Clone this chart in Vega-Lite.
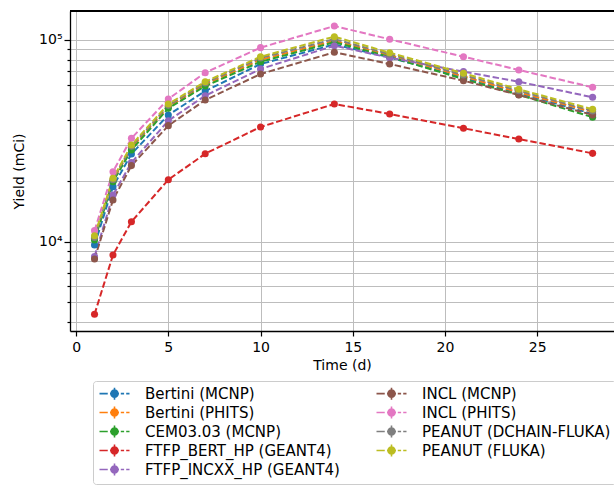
{
  "$schema": "https://vega.github.io/schema/vega-lite/v6.json",
  "autosize": {"type": "none"},
  "padding": {"left": 70, "top": 11, "right": 0, "bottom": 162},
  "width": 544,
  "height": 320,
  "config": {
    "font": "DejaVu Sans",
    "view": {"stroke": null},
    "axis": {
      "gridColor": "#bdbdbd",
      "gridWidth": 1,
      "gridOpacity": 1,
      "domainColor": "black",
      "domainWidth": 1.3,
      "tickColor": "black",
      "tickWidth": 1.2,
      "labelColor": "black",
      "labelFont": "DejaVu Sans",
      "labelFontSize": 14,
      "titleFont": "DejaVu Sans",
      "titleFontSize": 14,
      "titleFontWeight": "normal",
      "titleColor": "black"
    }
  },
  "data": {
    "values": [
      {"model": "Bertini (MCNP)", "t": 1, "y": 9630}, {"model": "Bertini (MCNP)", "t": 2, "y": 18740}, {"model": "Bertini (MCNP)", "t": 3, "y": 27220}, {"model": "Bertini (MCNP)", "t": 5, "y": 42500}, {"model": "Bertini (MCNP)", "t": 7, "y": 55840}, {"model": "Bertini (MCNP)", "t": 10, "y": 76000}, {"model": "Bertini (MCNP)", "t": 14, "y": 95000}, {"model": "Bertini (MCNP)", "t": 17, "y": 82000}, {"model": "Bertini (MCNP)", "t": 21, "y": 65000}, {"model": "Bertini (MCNP)", "t": 24, "y": 54500}, {"model": "Bertini (MCNP)", "t": 28, "y": 43000},
      {"model": "Bertini (PHITS)", "t": 1, "y": 10400}, {"model": "Bertini (PHITS)", "t": 2, "y": 20100}, {"model": "Bertini (PHITS)", "t": 3, "y": 29200}, {"model": "Bertini (PHITS)", "t": 5, "y": 46600}, {"model": "Bertini (PHITS)", "t": 7, "y": 60200}, {"model": "Bertini (PHITS)", "t": 10, "y": 79800}, {"model": "Bertini (PHITS)", "t": 14, "y": 99000}, {"model": "Bertini (PHITS)", "t": 17, "y": 84000}, {"model": "Bertini (PHITS)", "t": 21, "y": 66000}, {"model": "Bertini (PHITS)", "t": 24, "y": 55000}, {"model": "Bertini (PHITS)", "t": 28, "y": 44000},
      {"model": "CEM03.03 (MCNP)", "t": 1, "y": 10190}, {"model": "CEM03.03 (MCNP)", "t": 2, "y": 19840}, {"model": "CEM03.03 (MCNP)", "t": 3, "y": 28480}, {"model": "CEM03.03 (MCNP)", "t": 5, "y": 45850}, {"model": "CEM03.03 (MCNP)", "t": 7, "y": 59100}, {"model": "CEM03.03 (MCNP)", "t": 10, "y": 78000}, {"model": "CEM03.03 (MCNP)", "t": 14, "y": 97500}, {"model": "CEM03.03 (MCNP)", "t": 17, "y": 82500}, {"model": "CEM03.03 (MCNP)", "t": 21, "y": 64000}, {"model": "CEM03.03 (MCNP)", "t": 24, "y": 53500}, {"model": "CEM03.03 (MCNP)", "t": 28, "y": 41400},
      {"model": "FTFP_BERT_HP (GEANT4)", "t": 1, "y": 4365}, {"model": "FTFP_BERT_HP (GEANT4)", "t": 2, "y": 8590}, {"model": "FTFP_BERT_HP (GEANT4)", "t": 3, "y": 12560}, {"model": "FTFP_BERT_HP (GEANT4)", "t": 5, "y": 20280}, {"model": "FTFP_BERT_HP (GEANT4)", "t": 7, "y": 27300}, {"model": "FTFP_BERT_HP (GEANT4)", "t": 10, "y": 37050}, {"model": "FTFP_BERT_HP (GEANT4)", "t": 14, "y": 48150}, {"model": "FTFP_BERT_HP (GEANT4)", "t": 17, "y": 42950}, {"model": "FTFP_BERT_HP (GEANT4)", "t": 21, "y": 36480}, {"model": "FTFP_BERT_HP (GEANT4)", "t": 24, "y": 32280}, {"model": "FTFP_BERT_HP (GEANT4)", "t": 28, "y": 27410},
      {"model": "FTFP_INCXX_HP (GEANT4)", "t": 1, "y": 8430}, {"model": "FTFP_INCXX_HP (GEANT4)", "t": 2, "y": 17040}, {"model": "FTFP_INCXX_HP (GEANT4)", "t": 3, "y": 24650}, {"model": "FTFP_INCXX_HP (GEANT4)", "t": 5, "y": 39800}, {"model": "FTFP_INCXX_HP (GEANT4)", "t": 7, "y": 52950}, {"model": "FTFP_INCXX_HP (GEANT4)", "t": 10, "y": 71800}, {"model": "FTFP_INCXX_HP (GEANT4)", "t": 14, "y": 93700}, {"model": "FTFP_INCXX_HP (GEANT4)", "t": 17, "y": 81700}, {"model": "FTFP_INCXX_HP (GEANT4)", "t": 21, "y": 69650}, {"model": "FTFP_INCXX_HP (GEANT4)", "t": 24, "y": 62100}, {"model": "FTFP_INCXX_HP (GEANT4)", "t": 28, "y": 51980},
      {"model": "INCL (MCNP)", "t": 1, "y": 8210}, {"model": "INCL (MCNP)", "t": 2, "y": 16100}, {"model": "INCL (MCNP)", "t": 3, "y": 23830}, {"model": "INCL (MCNP)", "t": 5, "y": 37600}, {"model": "INCL (MCNP)", "t": 7, "y": 50400}, {"model": "INCL (MCNP)", "t": 10, "y": 67800}, {"model": "INCL (MCNP)", "t": 14, "y": 86900}, {"model": "INCL (MCNP)", "t": 17, "y": 76000}, {"model": "INCL (MCNP)", "t": 21, "y": 62850}, {"model": "INCL (MCNP)", "t": 24, "y": 53350}, {"model": "INCL (MCNP)", "t": 28, "y": 42500},
      {"model": "INCL (PHITS)", "t": 1, "y": 11340}, {"model": "INCL (PHITS)", "t": 2, "y": 22230}, {"model": "INCL (PHITS)", "t": 3, "y": 32550}, {"model": "INCL (PHITS)", "t": 5, "y": 51000}, {"model": "INCL (PHITS)", "t": 7, "y": 68850}, {"model": "INCL (PHITS)", "t": 10, "y": 91600}, {"model": "INCL (PHITS)", "t": 14, "y": 117300}, {"model": "INCL (PHITS)", "t": 17, "y": 100800}, {"model": "INCL (PHITS)", "t": 21, "y": 82600}, {"model": "INCL (PHITS)", "t": 24, "y": 71000}, {"model": "INCL (PHITS)", "t": 28, "y": 58270},
      {"model": "PEANUT (DCHAIN-FLUKA)", "t": 1, "y": 10500}, {"model": "PEANUT (DCHAIN-FLUKA)", "t": 2, "y": 20300}, {"model": "PEANUT (DCHAIN-FLUKA)", "t": 3, "y": 29700}, {"model": "PEANUT (DCHAIN-FLUKA)", "t": 5, "y": 47400}, {"model": "PEANUT (DCHAIN-FLUKA)", "t": 7, "y": 61200}, {"model": "PEANUT (DCHAIN-FLUKA)", "t": 10, "y": 81400}, {"model": "PEANUT (DCHAIN-FLUKA)", "t": 14, "y": 101000}, {"model": "PEANUT (DCHAIN-FLUKA)", "t": 17, "y": 85000}, {"model": "PEANUT (DCHAIN-FLUKA)", "t": 21, "y": 67000}, {"model": "PEANUT (DCHAIN-FLUKA)", "t": 24, "y": 56000}, {"model": "PEANUT (DCHAIN-FLUKA)", "t": 28, "y": 44500},
      {"model": "PEANUT (FLUKA)", "t": 1, "y": 10710}, {"model": "PEANUT (FLUKA)", "t": 2, "y": 20620}, {"model": "PEANUT (FLUKA)", "t": 3, "y": 30130}, {"model": "PEANUT (FLUKA)", "t": 5, "y": 48150}, {"model": "PEANUT (FLUKA)", "t": 7, "y": 62100}, {"model": "PEANUT (FLUKA)", "t": 10, "y": 82600}, {"model": "PEANUT (FLUKA)", "t": 14, "y": 103850}, {"model": "PEANUT (FLUKA)", "t": 17, "y": 86500}, {"model": "PEANUT (FLUKA)", "t": 21, "y": 68400}, {"model": "PEANUT (FLUKA)", "t": 24, "y": 56970}, {"model": "PEANUT (FLUKA)", "t": 28, "y": 45330}
    ]
  },
  "encoding": {
    "x": {
      "field": "t",
      "type": "quantitative",
      "scale": {"domain": [-0.33, 29.16], "nice": false, "zero": false},
      "axis": {"values": [0, 5, 10, 15, 20, 25], "title": "Time (d)", "tickSize": 5, "labelPadding": 4, "titlePadding": 4, "labelFlush": false}
    },
    "y": {
      "field": "y",
      "type": "quantitative",
      "scale": {"type": "log", "domain": [3607, 139200], "nice": false},
      "axis": {
        "title": "Yield (mCi)",
        "values": [4000, 5000, 6000, 7000, 8000, 9000, 10000, 20000, 30000, 40000, 50000, 60000, 70000, 80000, 90000, 100000],
        "labelExpr": "datum.value == 10000 ? '10⁴' : (datum.value == 100000 ? '10⁵' : '')",
        "tickSize": {"condition": {"test": "datum.value == 10000 || datum.value == 100000", "value": 6}, "value": 3},
        "labelPadding": 2,
        "titlePadding": 12,
        "labelFlush": false
      }
    },
    "color": {
      "field": "model",
      "type": "nominal",
      "scale": {
        "domain": ["Bertini (MCNP)", "Bertini (PHITS)", "CEM03.03 (MCNP)", "FTFP_BERT_HP (GEANT4)", "FTFP_INCXX_HP (GEANT4)", "INCL (MCNP)", "INCL (PHITS)", "PEANUT (DCHAIN-FLUKA)", "PEANUT (FLUKA)"],
        "range": ["#1f77b4", "#ff7f0e", "#2ca02c", "#d62728", "#9467bd", "#8c564b", "#e377c2", "#7f7f7f", "#bcbd22"]
      },
      "legend": {
        "orient": "none",
        "legendX": 23,
        "legendY": 370,
        "columns": 2,
        "title": null,
        "symbolType": "M-1,0L0.375,0M0.75,0L2.25,0M2.55,0L3.1,0M3.45,0L4,0M1.5,-1L1.5,1M2.083,0A0.583,0.583,0,1,1,0.917,0A0.583,0.583,0,1,1,2.083,0Z",
        "symbolSize": 144,
        "symbolStrokeWidth": 1.6,
        "labelFontSize": 15,
        "labelFont": "DejaVu Sans",
        "labelColor": "black",
        "labelLimit": 400,
        "labelOffset": 32,
        "columnPadding": 33,
        "rowPadding": 0,
        "padding": 5,
        "strokeColor": "#cccccc",
        "fillColor": "white",
        "cornerRadius": 3,
        "encode": {
          "symbols": {
            "update": {
              "fill": {"scale": "color", "field": "value"},
              "stroke": {"scale": "color", "field": "value"},
              "strokeDash": {"value": []},
              "opacity": {"value": 1}
            }
          }
        }
      }
    }
  },
  "layer": [
    {"mark": {"type": "line", "strokeDash": [6.5, 2.8], "strokeWidth": 2}},
    {"mark": {"type": "point", "filled": true, "size": 50, "opacity": 1}},
    {
      "mark": {"type": "rule", "color": "black", "strokeWidth": 1.3},
      "encoding": {"y": {"datum": 139200}, "x": null, "color": null}
    }
  ]
}
